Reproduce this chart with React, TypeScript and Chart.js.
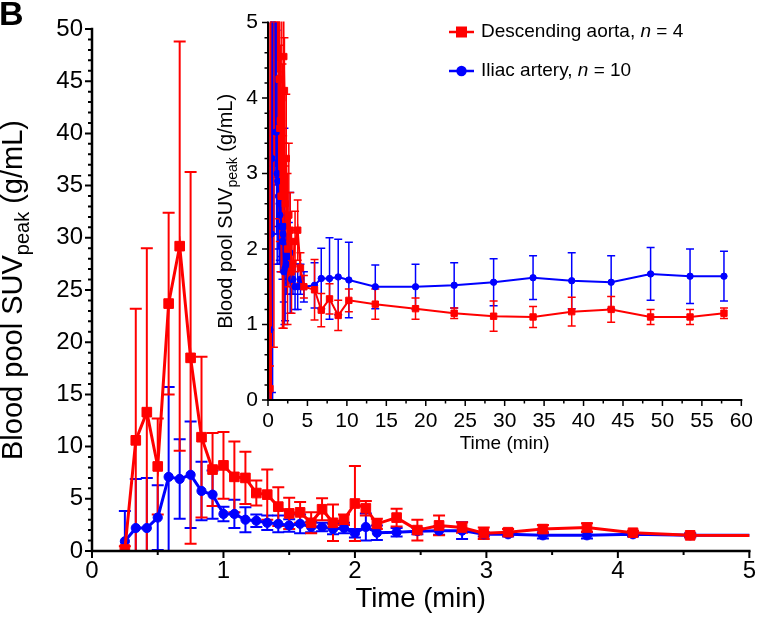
import React, { useEffect, useRef } from 'react';
import { Chart, registerables } from 'chart.js';

Chart.register(...registerables);

// ---------- DATA ----------
const timeMin = [
  0.25, 0.333, 0.417, 0.5, 0.583, 0.667, 0.75, 0.833, 0.917, 1.0,
  1.083, 1.167, 1.25, 1.333, 1.417, 1.5, 1.583, 1.667, 1.75, 1.833,
  1.917, 2.0, 2.083, 2.167, 2.317, 2.475, 2.64, 2.815, 2.98, 3.165,
  3.43, 3.765, 4.115, 4.55, 5.9, 6.75, 7.8, 8.9, 10.25, 13.6,
  18.7, 23.6, 28.6, 33.6, 38.5, 43.5, 48.5, 53.5, 57.8,
];

const aortaMean = [
  0.15, 10.6, 13.3, 8.1, 23.7, 29.2, 18.5, 10.9, 7.8, 8.2,
  7.1, 7.0, 5.55, 5.4, 4.25, 3.6, 3.7, 2.7, 4.0, 2.7,
  3.0, 4.55, 4.1, 2.6, 3.2, 2.0, 2.45, 2.25, 1.7, 1.8,
  2.1, 2.25, 1.75, 1.5, 1.46, 1.19, 1.34, 1.12, 1.32, 1.27,
  1.21, 1.15, 1.11, 1.1, 1.17, 1.2, 1.1, 1.1, 1.15,
];
const aortaSD = [
  0.3, 12.6, 15.7, 4.6, 8.7, 19.6, 17.8, 7.7, 3.5, 3.2,
  3.4, 2.5, 1.2, 2.4, 1.85, 1.5, 1.0, 1.0, 1.05, 1.75,
  0.5, 3.6, 0.7, 0.5, 0.85, 1.0, 0.95, 0.5, 0.55, 0.3,
  0.4, 0.4, 0.2, 0.15, 0.4, 0.22, 0.2, 0.2, 0.15, 0.2,
  0.14, 0.07, 0.2, 0.14, 0.19, 0.17, 0.1, 0.1, 0.07,
];

const iliacMean = [
  0.93, 2.2, 2.2, 3.2, 7.1, 6.9, 7.3, 5.75, 5.4, 3.55,
  3.55, 3.0, 2.9, 2.7, 2.6, 2.45, 2.6, 2.3, 2.3, 2.1,
  2.2, 1.7, 2.3, 1.75, 1.8, 1.9, 1.95, 1.95, 1.6, 1.6,
  1.5, 1.5, 1.6, 1.5, 1.52, 1.61, 1.61, 1.63, 1.59, 1.5,
  1.5, 1.52, 1.56, 1.62, 1.58, 1.56, 1.67, 1.64, 1.64,
];
const iliacSD = [
  2.9, 4.7, 4.8, 3.1, 8.6, 3.8, 5.1, 2.8, 2.3, 0.7,
  1.35, 1.2, 0.6, 0.7, 0.8, 0.6, 0.9, 0.5, 0.4, 0.5,
  0.5, 0.4, 1.3, 0.7, 0.4, 0.3, 0.4, 0.8, 0.2, 0.2,
  0.3, 0.3, 0.2, 0.2, 0.3, 0.4, 0.54, 0.5, 0.5, 0.29,
  0.3, 0.3, 0.31, 0.29, 0.37, 0.35, 0.35, 0.36, 0.33,
];

const seriesLabels = ['Descending aorta, ', 'Iliac artery, '];
const seriesN = ['4', '10'];
const RED = '#FF0000';
const BLUE = '#0000FF';
const FONT = "'Liberation Sans', Arial, sans-serif";

// ---------- helpers ----------
type Part = { t: string; font: string; dy?: number };

function measure(ctx: CanvasRenderingContext2D, parts: Part[]) {
  let w = 0;
  for (const p of parts) {
    ctx.font = p.font;
    w += ctx.measureText(p.t).width;
  }
  return w;
}

function drawParts(ctx: CanvasRenderingContext2D, parts: Part[], x0: number, y0: number) {
  let x = x0;
  for (const p of parts) {
    ctx.font = p.font;
    ctx.fillText(p.t, x, y0 + (p.dy || 0));
    x += ctx.measureText(p.t).width;
  }
}

function drawRotatedCentered(ctx: CanvasRenderingContext2D, parts: Part[], bx: number, cy: number) {
  ctx.save();
  ctx.translate(bx, cy);
  ctx.rotate(-Math.PI / 2);
  ctx.textAlign = 'left';
  ctx.textBaseline = 'alphabetic';
  ctx.fillStyle = '#000';
  const w = measure(ctx, parts);
  drawParts(ctx, parts, -w / 2, 0);
  ctx.restore();
}

const errorBarPlugin = {
  id: 'errbars',
  beforeDatasetsDraw(chart: any, _args: any, o: any) {
    const { ctx, chartArea: ca, scales } = chart;
    ctx.save();
    ctx.beginPath();
    ctx.rect(ca.left, ca.top - 1, ca.right - ca.left + 1, ca.bottom - ca.top + 1);
    ctx.clip();
    ctx.lineWidth = o.lineWidth;
    for (const di of [1, 0]) {
      const ds = chart.data.datasets[di];
      const errs: number[] = ds.errors;
      ctx.strokeStyle = ds.borderColor;
      ds.data.forEach((p: any, i: number) => {
        const x = scales.x.getPixelForValue(p.x);
        if (x < ca.left - 2 || x > ca.right + 2) return;
        const yt = scales.y.getPixelForValue(p.y + errs[i]);
        const yb = scales.y.getPixelForValue(p.y - errs[i]);
        ctx.beginPath();
        ctx.moveTo(x, yt);
        ctx.lineTo(x, yb);
        ctx.moveTo(x - o.cap, yt);
        ctx.lineTo(x + o.cap, yt);
        ctx.moveTo(x - o.cap, yb);
        ctx.lineTo(x + o.cap, yb);
        ctx.stroke();
      });
    }
    ctx.restore();
  },
};

const decorPlugin = {
  id: 'decor',
  afterDraw(chart: any, _args: any, o: any) {
    const { ctx, chartArea: ca, scales } = chart;
    const xs = scales.x;
    const ys = scales.y;
    ctx.save();
    ctx.strokeStyle = '#000';
    ctx.lineWidth = o.axisWidth;
    ctx.lineCap = 'square';
    ctx.beginPath();
    ctx.moveTo(ca.left, ca.top);
    ctx.lineTo(ca.left, ca.bottom);
    ctx.lineTo(ca.right, ca.bottom);
    ctx.stroke();
    ctx.lineCap = 'butt';
    ctx.lineWidth = o.tickWidth;
    ctx.beginPath();
    const nx = Math.round((xs.max - xs.min) / o.xMinor);
    for (let i = 0; i <= nx; i++) {
      const v = xs.min + i * o.xMinor;
      const major = Math.abs(v / o.xMajor - Math.round(v / o.xMajor)) < 1e-6;
      const px = xs.getPixelForValue(v);
      ctx.moveTo(px, ca.bottom);
      ctx.lineTo(px, ca.bottom + (major ? o.majorLen : o.minorLen));
    }
    const ny = Math.round((ys.max - ys.min) / o.yMinor);
    for (let i = 0; i <= ny; i++) {
      const v = ys.min + i * o.yMinor;
      const major = Math.abs(v / o.yMajor - Math.round(v / o.yMajor)) < 1e-6;
      const py = ys.getPixelForValue(v);
      ctx.moveTo(ca.left, py);
      ctx.lineTo(ca.left - (major ? o.majorLen : o.minorLen), py);
    }
    ctx.stroke();

    // titles
    ctx.fillStyle = '#000';
    ctx.textAlign = 'center';
    ctx.textBaseline = 'alphabetic';
    ctx.font = `${o.xTitleSize}px ${FONT}`;
    ctx.fillText('Time (min)', (ca.left + ca.right) / 2, o.xTitleBaseline);
    const ts = o.yTitleSize;
    const ss = o.ySubSize;
    drawRotatedCentered(
      ctx,
      [
        { t: 'Blood pool SUV', font: `${ts}px ${FONT}` },
        { t: 'peak', font: `${ss}px ${FONT}`, dy: o.ySubShift },
        { t: ' (g/mL)', font: `${ts}px ${FONT}` },
      ],
      o.yTitleBaseline,
      (ca.top + ca.bottom) / 2
    );

    if (o.legend) {
      const rows = [
        { y: 32, color: RED, style: 'rect' },
        { y: 71, color: BLUE, style: 'circle' },
      ];
      rows.forEach((r, i) => {
        ctx.strokeStyle = r.color;
        ctx.fillStyle = r.color;
        ctx.lineWidth = 2.5;
        ctx.beginPath();
        ctx.moveTo(449, r.y);
        ctx.lineTo(474, r.y);
        ctx.stroke();
        if (r.style === 'rect') {
          ctx.fillRect(461.5 - 5.5, r.y - 5.5, 11, 11);
        } else {
          ctx.beginPath();
          ctx.arc(461.5, r.y, 5.2, 0, Math.PI * 2);
          ctx.fill();
        }
        ctx.fillStyle = '#000';
        ctx.textAlign = 'left';
        ctx.textBaseline = 'middle';
        drawParts(
          ctx,
          [
            { t: seriesLabels[i], font: `19px ${FONT}` },
            { t: 'n', font: `italic 19px ${FONT}` },
            { t: ' = ' + seriesN[i], font: `19px ${FONT}` },
          ],
          481,
          r.y
        );
      });
      ctx.textBaseline = 'alphabetic';
      ctx.font = `bold 34px ${FONT}`;
      ctx.fillText('B', -1, 25);
    }
    ctx.restore();
  },
};

function makeDatasets(big: boolean) {
  const pts = (m: number[]) => timeMin.map((t, i) => ({ x: t, y: m[i] }));
  return [
    {
      label: 'Descending aorta',
      data: pts(aortaMean),
      errors: aortaSD,
      borderColor: RED,
      backgroundColor: RED,
      borderWidth: big ? 3 : 2,
      pointStyle: 'rect',
      pointRadius: big ? 6.8 : 4.5,
      pointBorderWidth: 1,
      pointBorderColor: RED,
      pointBackgroundColor: RED,
      tension: 0,
    },
    {
      label: 'Iliac artery',
      data: pts(iliacMean),
      errors: iliacSD,
      borderColor: BLUE,
      backgroundColor: BLUE,
      borderWidth: big ? 3 : 2,
      pointStyle: 'circle',
      pointRadius: big ? 4.6 : 3.2,
      pointBorderWidth: 1,
      pointBorderColor: BLUE,
      pointBackgroundColor: BLUE,
      tension: 0,
    },
  ];
}

function scaleOpts(min: number, max: number, step: number, size: number, pad: number, fit: (s: any) => void) {
  return {
    type: 'linear',
    min,
    max,
    grid: { display: false, drawTicks: false },
    border: { display: false },
    ticks: { stepSize: step, color: '#000', font: { size, family: FONT }, padding: pad, maxRotation: 0, autoSkip: false },
    afterFit: fit,
  };
}

export default function App() {
  const mainRef = useRef<HTMLCanvasElement>(null);
  const insetRef = useRef<HTMLCanvasElement>(null);

  useEffect(() => {
    document.body.style.margin = '0';
    Chart.defaults.font.family = FONT;
    Chart.defaults.color = '#000';

    const main = new Chart(mainRef.current as HTMLCanvasElement, {
      type: 'line',
      data: { datasets: makeDatasets(true) as any },
      options: {
        responsive: false,
        animation: false,
        devicePixelRatio: 1,
        layout: { padding: { left: 0, top: 29, right: 12, bottom: 0 } },
        scales: {
          x: scaleOpts(0, 5, 1, 24, 6, (s: any) => { s.height = 66; }) as any,
          y: scaleOpts(0, 50, 5, 24, 9, (s: any) => { s.width = 92; }) as any,
        },
        plugins: {
          legend: { display: false },
          tooltip: { enabled: false },
          errbars: { lineWidth: 2, cap: 6 },
          decor: {
            axisWidth: 2.5, tickWidth: 2, majorLen: 7, minorLen: 4,
            xMajor: 1, xMinor: 0.5, yMajor: 5, yMinor: 1,
            xTitleSize: 27.5, xTitleBaseline: 607,
            yTitleSize: 29, ySubSize: 20, ySubShift: 7, yTitleBaseline: 22,
            legend: true,
          },
        } as any,
      },
      plugins: [errorBarPlugin, decorPlugin],
    });

    const inset = new Chart(insetRef.current as HTMLCanvasElement, {
      type: 'line',
      data: { datasets: makeDatasets(false) as any },
      options: {
        responsive: false,
        animation: false,
        devicePixelRatio: 1,
        layout: { padding: { left: 0, top: 22.5, right: 15, bottom: 0 } },
        scales: {
          x: scaleOpts(0, 60, 5, 21, 9, (s: any) => { s.height = 60; }) as any,
          y: scaleOpts(0, 5, 1, 21, 10, (s: any) => { s.width = 68; }) as any,
        },
        plugins: {
          legend: { display: false },
          tooltip: { enabled: false },
          errbars: { lineWidth: 1.5, cap: 4 },
          decor: {
            axisWidth: 2, tickWidth: 1.5, majorLen: 6, minorLen: 3.5,
            xMajor: 5, xMinor: 2.5, yMajor: 1, yMinor: 0.2,
            xTitleSize: 19, xTitleBaseline: 449,
            yTitleSize: 20, ySubSize: 14, ySubShift: 5, yTitleBaseline: 31.5,
            legend: false,
          },
        } as any,
      },
      plugins: [errorBarPlugin, decorPlugin],
    });

    return () => {
      main.destroy();
      inset.destroy();
    };
  }, []);

  return (
    <div style={{ position: 'relative', width: 762, height: 617, background: '#fff' }}>
      <canvas
        ref={mainRef}
        width={762}
        height={617}
        style={{ position: 'absolute', left: 0, top: 0, width: 762, height: 617 }}
      />
      <canvas
        ref={insetRef}
        width={562}
        height={460}
        style={{ position: 'absolute', left: 200, top: 0, width: 562, height: 460 }}
      />
    </div>
  );
}
